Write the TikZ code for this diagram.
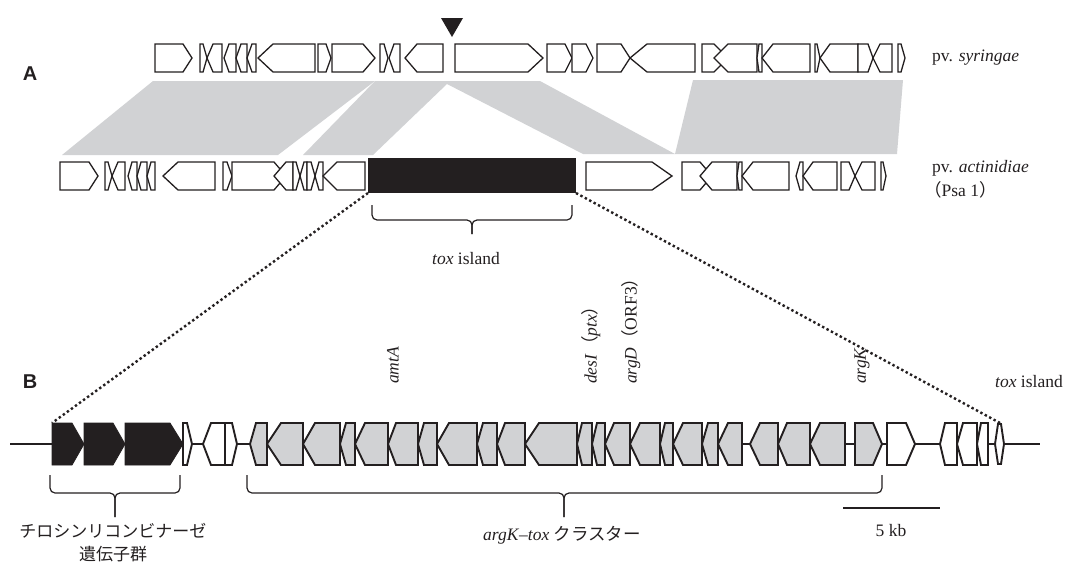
\documentclass[tikz,border=0pt]{standalone}
\usepackage{fontspec}
\setmainfont{Liberation Serif}
\newfontfamily\cjk{Noto Sans CJK JP}
\newfontfamily\labfont{Liberation Sans}
\definecolor{bandgray}{HTML}{D1D2D4}
\definecolor{genegray}{HTML}{D1D2D4}
\definecolor{ink}{HTML}{231F20}

% right-pointing gene: [style]{left x}{tip x}{head length}
\newcommand\gR[4][gwhite]{\draw[#1] (#2,\rowy-\rowh) -- ({#3-#4},\rowy-\rowh) -- (#3,\rowy) -- ({#3-#4},\rowy+\rowh) -- (#2,\rowy+\rowh) -- cycle;}
% left-pointing gene: [style]{tip x}{right x}{head length}
\newcommand\gL[4][gwhite]{\draw[#1] (#2,\rowy) -- ({#2+#4},\rowy-\rowh) -- (#3,\rowy-\rowh) -- (#3,\rowy+\rowh) -- ({#2+#4},\rowy+\rowh) -- cycle;}
% curly bracket: {left x}{right x}{centre x}{top y}{bottom y}{tick y}
\newcommand\gbrace[6]{%
  \draw[brace] (#1,#4) -- (#1,#5) -- (#3,#5) -- (#3,#6);
  \draw[brace] (#2,#4) -- (#2,#5) -- (#3,#5) -- (#3,#6);}

\begin{document}
\begin{tikzpicture}[x=1pt,y=-1pt,
  gwhite/.style={draw=ink,line width=1.3pt,fill=white,line join=miter},
  gwhiteb/.style={draw=ink,line width=1.9pt,fill=white,line join=miter},
  ggray/.style={draw=ink,line width=1.9pt,fill=genegray,line join=miter},
  gblack/.style={draw=ink,line width=0.8pt,fill=ink},
  band/.style={fill=bandgray},
  brace/.style={draw=ink,line width=1.2pt,rounded corners=5pt},
  dots/.style={draw=ink,line width=2.4pt,dash pattern=on 2.4pt off 2.6pt},
  lbl/.style={font=\fontsize{17.5}{20}\selectfont,inner sep=0pt,text=ink},
  jlbl/.style={font=\cjk\fontsize{17}{22}\selectfont,inner sep=0pt,text=ink},
  panel/.style={font=\labfont\bfseries\fontsize{20}{22}\selectfont,inner sep=0pt,text=ink}]
\useasboundingbox (0,0) rectangle (1068,565);

% ---- homology bands between the two genomes ----
\fill[band] (153,81) -- (375,81) -- (278,155) -- (62,155) -- cycle;
\fill[band] (375,81) -- (540,81) -- (675,154) -- (583,154) -- (447,84) -- (373,155) -- (303,155) -- cycle;
\fill[band] (693,80) -- (903,80) -- (897,154) -- (675,154) -- cycle;

% insertion marker
\fill[ink] (441,18) -- (463,18) -- (452,37) -- cycle;

% ---- pv. syringae ----
\def\rowy{58}\def\rowh{14}
\gR{155}{192}{9}
\gR{200}{207}{4}
\gL{207}{222}{6}
\gL{224}{236}{5}
\gL{236}{247}{5}
\gL{247}{256}{5}
\gL{258}{315}{15}
\gR{318}{331}{5}
\gR{332}{375}{12}
\gR{380}{388}{4}
\gL{389}{400}{5}
\gL{405}{443}{12}
\gR{455}{543}{15}
\gR{547}{572}{7}
\gR{572}{593}{7}
\gR{597}{630}{9}
\gL{630}{695}{17}
\gR{702}{728}{14}
\gL{714}{757}{14}
\gL{757}{762}{2}
\gL{762}{810}{11}
\gR{815}{820}{3}
\gL{820}{858}{10}
\gR{858}{873}{5}
\gL{873}{892}{7}
\gR{898}{905}{4}

% ---- pv. actinidiae ----
\def\rowy{176}\def\rowh{14}
\gR{60}{98}{9}
\gR{105}{112}{4}
\gL{112}{125}{6}
\gL{128}{137}{4}
\gL{137}{147}{4}
\gL{147}{155}{4}
\gL{163}{215}{15}
\gR{223}{232}{5}
\gR{232}{286}{12}
\gL{274}{293}{12}
\gR{293}{300}{4}
\gL{300}{307}{4}
\gR{307}{315}{4}
\gL{315}{323}{4}
\gL{323}{365}{14}
\fill[ink] (368,158) rectangle (576,193);
\coordinate (islandL) at (368,193);
\coordinate (islandR) at (576,193);
\gR{586}{672}{20}
\gR{682}{712}{12}
\gL{700}{737}{12}
\gL{737}{742}{2}
\gL{742}{789}{11}
\gL{796}{803}{4}
\gL{803}{837}{10}
\gR{841}{855}{6}
\gL{855}{875}{7}
\gR{881}{886}{3}

\gbrace{372}{572}{472}{205}{220}{234}
\node[lbl] (toxA) at (466,259) {\textit{tox} island};

% ---- tox island in detail ----
\def\rowy{444}\def\rowh{21}
\draw[ink,line width=1.6pt] (10,444) -- (1040,444);
\gR[gblack]{52}{84}{12}
\gR[gblack]{84}{125}{12}
\gR[gblack]{125}{183}{13}
\coordinate (detailL) at (52,423);
\coordinate (detailR) at (1000,423);
\gR[gwhiteb]{183}{192}{5}
\gL[gwhiteb]{203}{225}{8}
\gR[gwhiteb]{225}{237}{5}
\gL[ggray]{250}{267}{6}
\gL[ggray]{267}{303}{14}
\gL[ggray]{303}{340}{12}
\gL[ggray]{340}{355}{6}
\gL[ggray]{355}{388}{10}
\gL[ggray]{388}{418}{8}
\gL[ggray]{418}{437}{6}
\gL[ggray]{437}{477}{12}
\gL[ggray]{477}{497}{6}
\gL[ggray]{497}{525}{8}
\gL[ggray]{525}{577}{14}
\gL[ggray]{577}{592}{5}
\gL[ggray]{592}{605}{5}
\gL[ggray]{605}{630}{9}
\gL[ggray]{630}{660}{10}
\gL[ggray]{660}{673}{5}
\gL[ggray]{673}{702}{10}
\gL[ggray]{702}{718}{6}
\gL[ggray]{718}{742}{10}
\gL[ggray]{750}{778}{10}
\gL[ggray]{778}{810}{9}
\gL[ggray]{810}{845}{10}
\gR[ggray]{855}{882}{9}
\gR[gwhiteb]{887}{915}{9}
\gL[gwhiteb]{940}{957}{5}
\gL[gwhiteb]{957}{977}{6}
\gL[gwhiteb]{977}{988}{4}
\draw[gwhiteb] (995,444) -- (998,424) -- (1001,424) -- (1004,444) -- (1001,464) -- (998,464) -- cycle;

% zoom lines
\draw[dots] (islandL) -- (detailL);
\draw[dots] (islandR) -- (detailR);

% gene names
\node[lbl,rotate=90,anchor=west] (amtA) at (393,384) {\textit{amtA}};
\node[lbl,rotate=90,anchor=west] (desI) at (591,384) {\textit{desI}{\cjk （}\textit{ptx}{\cjk ）}};
\node[lbl,rotate=90,anchor=west] (argD) at (631,384) {\textit{argD}{\cjk （}ORF3{\cjk ）}};
\node[lbl,rotate=90,anchor=west] (argK) at (862,384) {\textit{argK}};
\node[lbl] (toxB) at (1029,382) {\textit{tox} island};

% brackets under the detail row
\gbrace{50}{180}{115}{475}{493}{517}
\gbrace{247}{882}{564}{475}{493}{517}
\node[jlbl] (tyr1) at (113,531) {チロシンリコンビナーゼ};
\node[jlbl] (tyr2) at (113,554) {遺伝子群};
\node[lbl] (clus) at (562,535) {\textit{argK}--\textit{tox} {\cjk クラスター}};

% scale bar
\draw[ink,line width=1.5pt] (843,508) coordinate (sb1) -- (940,508) coordinate (sb2);
\node[lbl] (kb) at (891,531) {5 kb};

% strain labels
\node[lbl,anchor=west] (syr) at (932,58) {pv. \textit{syringae}};
\node[lbl,anchor=west] (act) at (932,168) {pv. \textit{actinidiae}};
\node[lbl,anchor=west] (psa) at (924,190) {{\cjk （}Psa 1{\cjk ）}};

% panel letters
\node[panel] (pA) at (30,74) {A};
\node[panel] (pB) at (30,382) {B};
\end{tikzpicture}
\end{document}
